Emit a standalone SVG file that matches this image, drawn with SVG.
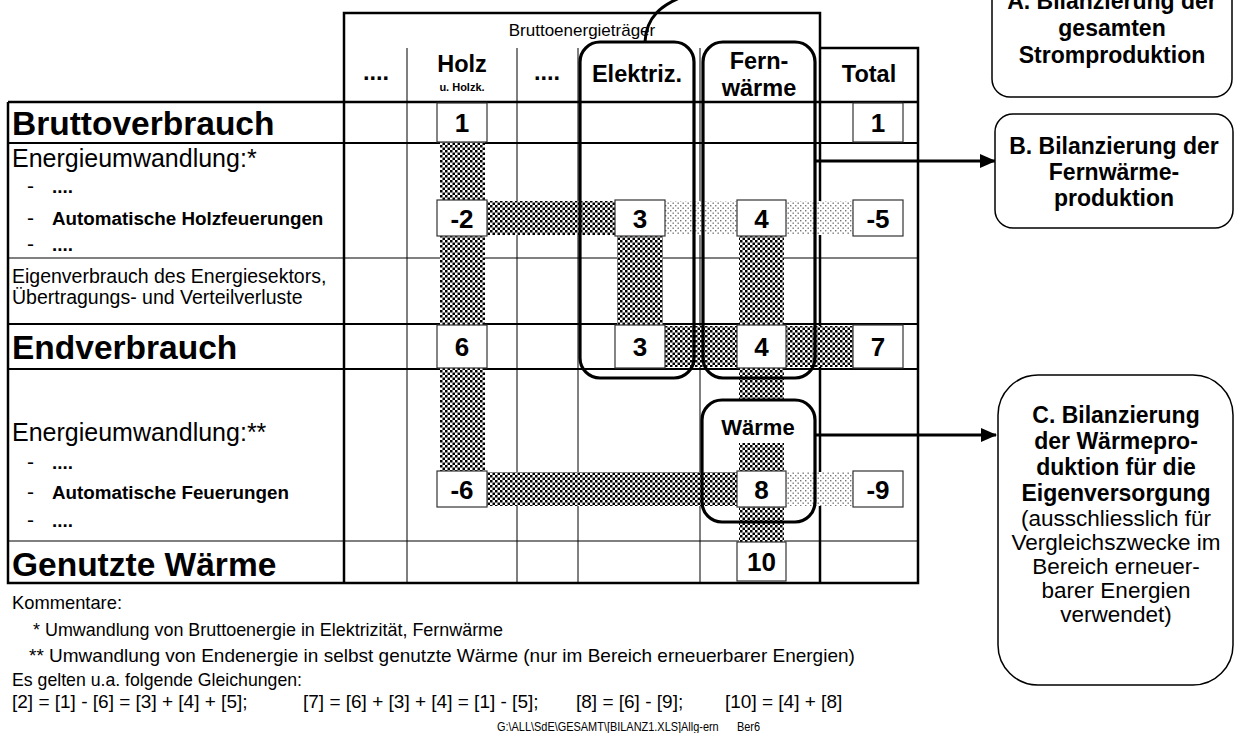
<svg xmlns="http://www.w3.org/2000/svg" width="1237" height="733" viewBox="0 0 1237 733">
<defs>
<pattern id="dk" width="5" height="5" patternUnits="userSpaceOnUse"><rect width="5" height="5" fill="#fff"/><rect width="2.5" height="2.5" fill="#000"/><rect x="2.5" y="2.5" width="2.5" height="2.5" fill="#000"/></pattern>
<pattern id="lt" width="5" height="5" patternUnits="userSpaceOnUse"><rect width="5" height="5" fill="#fff"/><rect width="1.4" height="1.4" fill="#777"/><rect x="2.5" y="2.5" width="1.4" height="1.4" fill="#777"/></pattern>
<marker id="ah" markerUnits="userSpaceOnUse" markerWidth="16" markerHeight="14" refX="15" refY="7" orient="auto"><path d="M0,0 L16,7 L0,14 z" fill="#000"/></marker>
</defs>
<style>
text{font-family:"Liberation Sans",Arial,sans-serif;fill:#000}
.big{font-size:33.5px;font-weight:bold}
.lab{font-size:25px}
.sub{font-size:19.5px}
.it{font-size:18.8px;font-weight:bold}
.dash{font-size:21px}
.hd{font-size:23.5px;font-weight:bold;text-anchor:middle}
.num{font-size:26px;font-weight:bold;text-anchor:middle}
.nb{fill:#fff;stroke:#333;stroke-width:1.2}
.thin{stroke:#000;stroke-width:1;fill:none}
.med{stroke:#000;stroke-width:1.8;fill:none}
.thick{stroke:#000;stroke-width:2.5;fill:none}
.rb{fill:none;stroke:#000;stroke-width:3.2}
.con{fill:none;stroke:#000;stroke-width:3}
.bx{fill:#fff;stroke:#000;stroke-width:1.5}
.bt{font-size:23px;font-weight:bold;text-anchor:middle}
.ct{font-size:22.5px;text-anchor:middle}
.cm{font-size:19px}
.fp{font-size:12px;white-space:pre}
</style>

<g id="table">
<path class="thin" d="M407,48V583M517,48V583M578,48V583M700,48V583"/>
<path class="thin" d="M8,258H918M8,541H918"/>
<path class="med" d="M8,143H918M8,324H918M8,369H918"/>
<path class="thick" d="M8,102H918M344,583V13H820V583M820,48H918V583H8V102"/>
<text x="582" y="36" style="font-size:17px;text-anchor:middle">Bruttoenergieträger</text>
<text class="hd" x="376" y="80">....</text>
<text class="hd" x="462" y="72">Holz</text>
<text x="462" y="91" style="font-size:11px;font-weight:bold;text-anchor:middle">u. Holzk.</text>
<text class="hd" x="547" y="80">....</text>
<text class="hd" x="637" y="82">Elektriz.</text>
<text class="hd" x="759" y="69">Fern-</text>
<text class="hd" x="759" y="96">wärme</text>
<text class="hd" x="869" y="82">Total</text>
<text class="big" x="12" y="135">Bruttoverbrauch</text>
<text class="lab" x="12" y="167">Energieumwandlung:*</text>
<text class="dash" x="27" y="193">-</text><text class="it" x="52" y="193">....</text>
<text class="dash" x="27" y="225">-</text><text class="it" x="52" y="225">Automatische Holzfeuerungen</text>
<text class="dash" x="27" y="251">-</text><text class="it" x="52" y="251">....</text>
<text class="sub" x="12" y="283">Eigenverbrauch des Energiesektors,</text>
<text class="sub" x="12" y="304">Übertragungs- und Verteilverluste</text>
<text class="big" x="12" y="359">Endverbrauch</text>
<text class="lab" x="12" y="441">Energieumwandlung:**</text>
<text class="dash" x="27" y="469">-</text><text class="it" x="52" y="469">....</text>
<text class="dash" x="27" y="499">-</text><text class="it" x="52" y="499">Automatische Feuerungen</text>
<text class="dash" x="27" y="527">-</text><text class="it" x="52" y="527">....</text>
<text class="big" x="12" y="576">Genutzte Wärme</text>
</g>

<g id="hatches">
<rect x="440" y="142" width="45" height="58" fill="url(#dk)"/>
<rect x="440" y="236" width="45" height="89" fill="url(#dk)"/>
<rect x="440" y="368" width="45" height="103" fill="url(#dk)"/>
<rect x="487" y="201" width="128" height="34" fill="url(#dk)"/>
<rect x="665" y="201" width="72" height="34" fill="url(#lt)"/>
<rect x="786" y="201" width="67" height="34" fill="url(#lt)"/>
<rect x="617" y="236" width="46" height="89" fill="url(#dk)"/>
<rect x="739" y="236" width="45" height="89" fill="url(#dk)"/>
<rect x="665" y="326" width="72" height="41" fill="url(#dk)"/>
<rect x="786" y="326" width="67" height="41" fill="url(#dk)"/>
<rect x="739" y="368" width="45" height="32" fill="url(#dk)"/>
<rect x="739" y="443" width="45" height="28" fill="url(#dk)"/>
<rect x="739" y="507" width="45" height="35" fill="url(#dk)"/>
<rect x="487" y="472" width="250" height="34" fill="url(#dk)"/>
<rect x="786" y="472" width="67" height="34" fill="url(#lt)"/>
</g>

<g id="n1a"><rect class="nb" x="437" y="103" width="50" height="39"/><text class="num" x="462" y="132">1</text></g>
<g id="n1t"><rect class="nb" x="853" y="103" width="50" height="39"/><text class="num" x="878" y="132">1</text></g>
<g id="n2"><rect class="nb" x="437" y="200" width="50" height="36"/><text class="num" x="462" y="227.5">-2</text></g>
<g id="n3a"><rect class="nb" x="615" y="200" width="50" height="36"/><text class="num" x="640" y="227.5">3</text></g>
<g id="n4a"><rect class="nb" x="737" y="200" width="49" height="36"/><text class="num" x="761.5" y="227.5">4</text></g>
<g id="n5"><rect class="nb" x="853" y="200" width="50" height="36"/><text class="num" x="878" y="227.5">-5</text></g>
<g id="n6"><rect class="nb" x="437" y="325" width="50" height="43"/><text class="num" x="462" y="356">6</text></g>
<g id="n3b"><rect class="nb" x="615" y="325" width="50" height="43"/><text class="num" x="640" y="356">3</text></g>
<g id="n4b"><rect class="nb" x="737" y="325" width="49" height="43"/><text class="num" x="761.5" y="356">4</text></g>
<g id="n7"><rect class="nb" x="853" y="325" width="50" height="43"/><text class="num" x="878" y="356">7</text></g>
<g id="n6m"><rect class="nb" x="437" y="471" width="50" height="36"/><text class="num" x="462" y="498.5">-6</text></g>
<g id="n8"><rect class="nb" x="737" y="471" width="49" height="36"/><text class="num" x="761.5" y="498.5">8</text></g>
<g id="n9"><rect class="nb" x="853" y="471" width="50" height="36"/><text class="num" x="878" y="498.5">-9</text></g>
<g id="n10"><rect class="nb" x="737" y="542" width="49" height="39"/><text class="num" x="761.5" y="571">10</text></g>

<g id="elektriz"><rect class="rb" x="580" y="42" width="114" height="336" rx="20"/></g>
<g id="fernwaerme"><rect class="rb" x="703" y="42" width="112" height="336" rx="20"/></g>
<g id="waerme"><rect class="rb" x="702" y="400" width="113" height="122" rx="20"/><text x="758" y="435" style="font-size:22px;font-weight:bold;text-anchor:middle">Wärme</text></g>

<g id="connectors">
<path class="con" d="M645,42 C646,18 660,4 690,-6"/>
<path class="con" d="M815,161 H995" marker-end="url(#ah)"/>
<path class="con" d="M815,435 H996" marker-end="url(#ah)"/>
</g>

<g id="boxA"><rect class="bx" x="992" y="-20" width="240" height="117" rx="18"/>
<text class="bt" x="1112" y="9">A. Bilanzierung der</text>
<text class="bt" x="1112" y="36">gesamten</text>
<text class="bt" x="1112" y="63">Stromproduktion</text></g>

<g id="boxB"><rect class="bx" x="995" y="114" width="238" height="114" rx="18"/>
<text class="bt" x="1114" y="154">B. Bilanzierung der</text>
<text class="bt" x="1114" y="180">Fernwärme-</text>
<text class="bt" x="1114" y="206">produktion</text></g>

<g id="boxC"><rect class="bx" x="998" y="375" width="235" height="310" rx="40"/>
<text class="bt" x="1116" y="423">C. Bilanzierung</text>
<text class="bt" x="1116" y="449">der Wärmepro-</text>
<text class="bt" x="1116" y="475">duktion für die</text>
<text class="bt" x="1116" y="501">Eigenversorgung</text>
<text class="ct" x="1116" y="526">(ausschliesslich für</text>
<text class="ct" x="1116" y="550">Vergleichszwecke im</text>
<text class="ct" x="1116" y="574">Bereich erneuer-</text>
<text class="ct" x="1116" y="598">barer Energien</text>
<text class="ct" x="1116" y="622">verwendet)</text></g>

<g id="notes">
<text class="cm" x="12" y="609" textLength="110" lengthAdjust="spacingAndGlyphs">Kommentare:</text>
<text class="cm" x="33" y="636" textLength="470" lengthAdjust="spacingAndGlyphs">* Umwandlung von Bruttoenergie in Elektrizität, Fernwärme</text>
<text class="cm" x="29" y="662">** Umwandlung von Endenergie in selbst genutzte Wärme (nur im Bereich erneuerbarer Energien)</text>
<text class="cm" x="12" y="686" textLength="290" lengthAdjust="spacingAndGlyphs">Es gelten u.a. folgende Gleichungen:</text>
<text class="cm" x="12" y="708">[2] = [1] - [6] = [3] + [4] + [5];</text>
<text class="cm" x="303" y="708">[7] = [6] + [3] + [4] = [1] - [5];</text>
<text class="cm" x="576" y="708">[8] = [6] - [9];</text>
<text class="cm" x="725" y="708">[10] = [4] + [8]</text>
<text class="fp" x="497" y="731" xml:space="preserve" textLength="263" lengthAdjust="spacingAndGlyphs">G:\ALL\SdE\GESAMT\[BILANZ1.XLS]Allg-ern      Ber6</text>
</g>
</svg>
